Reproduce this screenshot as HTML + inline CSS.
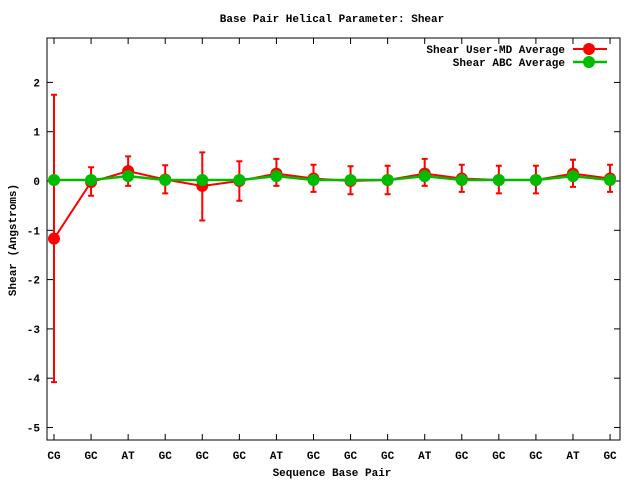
<!DOCTYPE html>
<html><head><meta charset="utf-8"><style>
html,body{margin:0;padding:0;background:#fff;width:640px;height:480px;overflow:hidden}
svg text{font-family:"Liberation Mono",monospace;font-size:11px;font-weight:bold;fill:#000}
</style></head><body>
<svg id="s" width="640" height="480" xmlns="http://www.w3.org/2000/svg">
<rect x="0" y="0" width="640" height="480" fill="#fff"/>
<text x="332" y="22" text-anchor="middle">Base Pair Helical Parameter: Shear</text>
<text x="332" y="476" text-anchor="middle">Sequence Base Pair</text>
<text transform="translate(16,240) rotate(-90)" text-anchor="middle">Shear (Angstroms)</text>
<g id="g"></g>
</svg>
<script>
var L=47,R=620,T=38,B=440,Y0=181,K=49.3;
function y(v){return Y0-v*K}
function X(i){return 54+i*37.07}
var labs=["CG","GC","AT","GC","GC","GC","AT","GC","GC","GC","AT","GC","GC","GC","AT","GC"];
var red=[[-1.17,-4.08,1.75],[-0.02,-0.3,0.28],[0.2,-0.1,0.5],[0.03,-0.25,0.32],[-0.1,-0.8,0.58],[0.0,-0.4,0.4],[0.15,-0.1,0.45],[0.05,-0.22,0.33],[0.0,-0.27,0.3],[0.02,-0.27,0.31],[0.15,-0.1,0.45],[0.05,-0.22,0.33],[0.02,-0.25,0.31],[0.02,-0.25,0.31],[0.15,-0.12,0.43],[0.05,-0.22,0.33]];
var grn=[0.02,0.02,0.1,0.02,0.02,0.02,0.1,0.02,0.02,0.02,0.1,0.02,0.02,0.02,0.1,0.02];
var h='<rect x="'+L+'" y="'+T+'" width="'+(R-L)+'" height="'+(B-T)+'" fill="none" stroke="#000" stroke-width="1"/>';
for(var v=-5;v<=2;v++){var yy=y(v);h+='<line x1="'+L+'" x2="'+(L+6)+'" y1="'+yy+'" y2="'+yy+'" stroke="#000"/><line x1="'+(R-6)+'" x2="'+R+'" y1="'+yy+'" y2="'+yy+'" stroke="#000"/>';h+='<text x="40" y="'+(yy+4)+'" text-anchor="end">'+(v<0?'-'+(-v):v)+'</text>';}
for(var i=0;i<16;i++){var x=X(i);h+='<line x1="'+x+'" x2="'+x+'" y1="'+B+'" y2="'+(B-6)+'" stroke="#000"/><line x1="'+x+'" x2="'+x+'" y1="'+T+'" y2="'+(T+6)+'" stroke="#000"/>';h+='<text x="'+x+'" y="459" text-anchor="middle">'+labs[i]+'</text>';}
var p='';for(i=0;i<16;i++){var x=X(i),r=red[i];p+=(i?'L':'M')+x+' '+y(r[0]);
h+='<path d="M'+x+' '+y(r[1])+'V'+y(r[2])+'M'+(x-3)+' '+y(r[1])+'h6M'+(x-3)+' '+y(r[2])+'h6" stroke="#f00" stroke-width="2" fill="none"/>';}
h+='<path d="'+p+'" stroke="#f00" stroke-width="2" fill="none"/>';
for(i=0;i<16;i++)h+='<circle cx="'+X(i)+'" cy="'+y(red[i][0])+'" r="6" fill="#f00"/>';
p='';for(i=0;i<16;i++)p+=(i?'L':'M')+X(i)+' '+y(grn[i]);
h+='<path d="'+p+'" stroke="#0b0" stroke-width="2.5" fill="none"/>';
for(i=0;i<16;i++)h+='<circle cx="'+X(i)+'" cy="'+y(grn[i])+'" r="6" fill="#0b0"/>';
h+='<text x="565" y="53" text-anchor="end">Shear User-MD Average</text><line x1="573" x2="607" y1="49" y2="49" stroke="#f00" stroke-width="2"/><circle cx="589" cy="49" r="6" fill="#f00"/>';
h+='<text x="565" y="66" text-anchor="end">Shear ABC Average</text><line x1="573" x2="607" y1="62" y2="62" stroke="#0b0" stroke-width="2.5"/><circle cx="589" cy="62" r="6" fill="#0b0"/>';
document.getElementById('g').innerHTML=h;
</script>
</body></html>
